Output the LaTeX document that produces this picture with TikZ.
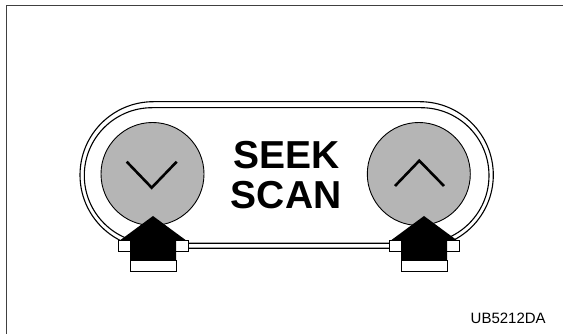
\documentclass[tikz,border=0pt]{standalone}
\usepackage{fontspec}
\setmainfont{Liberation Sans}
\usepackage{xcolor}

\definecolor{btngray}{RGB}{181,181,181}
\definecolor{framegray}{RGB}{64,64,64}

\tikzset{
  btn/.style={circle, draw=black, line width=0.9pt, fill=btngray, minimum size=103pt, inner sep=0pt},
  chev/.style={line width=2.6pt},
  rim/.style={line width=1.1pt},
  lbl/.style={font=\bfseries\fontsize{39}{40}\selectfont, inner sep=0pt},
}

\begin{document}
\begin{tikzpicture}[x=1pt,y=-1pt]
			% Picture size and frame
			\clip (0,0) rectangle (563,334);
			\draw[framegray, line width=1.5pt] (6.5,5.5) rectangle (600,400);
			
			% Double rim of the switch
			\draw[rim, rounded corners=73.3pt] (80,101.7) rectangle (493.3,248.3);
			\draw[rim, rounded corners=67.8pt] (84.3,107.7) rectangle (489,243.3);
			
			% Buttons
			\node[btn] (btndown) at (152.5,174) {};
			\node[btn] (btnup) at (418.8,174) {};
			\draw[chev] (126.7,161.7) -- (151.7,187.7) -- (176.7,161.7);
			\draw[chev] (395,186) -- (419.3,160.7) -- (444,186);
			
			% Label
			\node[lbl, anchor=base] (seek) at (286.7,168.3) {SEEK};
			\node[lbl, anchor=base] (scan) at (286.2,208.3) {SCAN};
			
			% Press arrows
			\foreach \ax in {153,424} {
				\draw[fill=white, line width=0.9pt] (\ax-35,240.7) rectangle (\ax+35,251.7);
				\fill[black] (\ax,216) -- (\ax+33.5,240.7) -- (\ax+23,240.7) -- (\ax+23,260.7)
					-- (\ax-23,260.7) -- (\ax-23,240.7) -- (\ax-33.5,240.7) -- cycle;
				\draw[fill=white, line width=0.9pt] (\ax-23,260.7) rectangle (\ax+23,271);
			}
			
			% Figure code
			\node[anchor=base west, inner sep=0pt, font=\fontsize{15}{18}\selectfont] (code) at (470.5,323.3) {UB5212DA};
		\end{tikzpicture}
\end{document}
